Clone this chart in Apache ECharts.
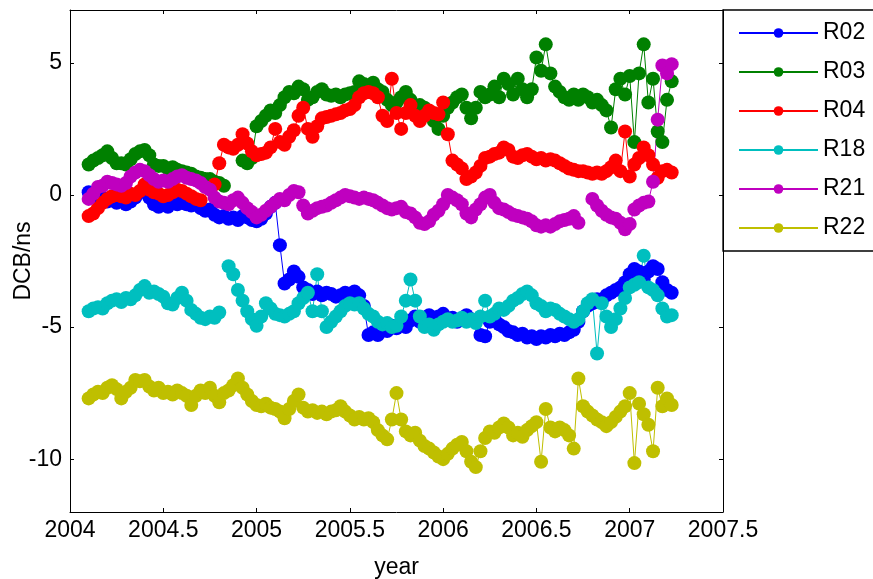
<!DOCTYPE html>
<html><head><meta charset="utf-8">
<script src="https://cdn.jsdelivr.net/npm/echarts@6/dist/echarts.min.js"></script>
<style>html,body{margin:0;padding:0;background:#fff}#c{width:873px;height:579px}</style>
</head><body><div id="c"></div>
<script>
const years = [
2004.100,2004.125,2004.150,2004.175,2004.200,2004.225,2004.250,2004.275,2004.300,2004.325,
2004.350,2004.375,2004.400,2004.425,2004.450,2004.475,2004.500,2004.525,2004.550,2004.575,
2004.600,2004.625,2004.650,2004.675,2004.700,2004.725,2004.750,2004.775,2004.800,2004.825,
2004.850,2004.875,2004.900,2004.925,2004.950,2004.975,2005.000,2005.025,2005.050,2005.075,
2005.100,2005.125,2005.150,2005.175,2005.200,2005.225,2005.250,2005.275,2005.300,2005.325,
2005.350,2005.375,2005.400,2005.425,2005.450,2005.475,2005.500,2005.525,2005.550,2005.575,
2005.600,2005.625,2005.650,2005.675,2005.700,2005.725,2005.750,2005.775,2005.800,2005.825,
2005.850,2005.875,2005.900,2005.925,2005.950,2005.975,2006.000,2006.025,2006.050,2006.075,
2006.100,2006.125,2006.150,2006.175,2006.200,2006.225,2006.250,2006.275,2006.300,2006.325,
2006.350,2006.375,2006.400,2006.425,2006.450,2006.475,2006.500,2006.525,2006.550,2006.575,
2006.600,2006.625,2006.650,2006.675,2006.700,2006.725,2006.750,2006.775,2006.800,2006.825,
2006.850,2006.875,2006.900,2006.925,2006.950,2006.975,2007.000,2007.025,2007.050,2007.075,
2007.100,2007.125,2007.150,2007.175,2007.200,2007.225];

const R02 = [
0.1,-0.05,-0.15,-0.1,-0.25,-0.2,-0.3,-0.2,-0.35,-0.25,
-0.1,0.1,0.2,-0.1,-0.35,-0.45,-0.35,-0.45,-0.3,-0.35,
-0.25,-0.35,-0.4,-0.3,-0.5,-0.6,-0.55,-0.75,-0.85,-0.8,
-0.9,-0.85,-0.95,-0.8,-0.85,-0.95,-1.0,-0.9,-0.7,-0.45,
-0.3,-1.9,-3.35,-3.2,-2.9,-3.1,-3.5,-3.6,-3.75,-3.65,
-3.8,-3.7,-3.75,-3.85,-3.8,-3.7,-3.75,-3.65,-3.8,-4.2,
-5.3,-5.2,-5.3,-5.05,-5.15,-4.95,-5.05,-4.9,-5.0,-4.75,
-4.6,-4.8,-4.65,-4.55,-4.7,-4.6,-4.5,-4.7,-4.65,-4.8,
-4.7,-4.55,-4.7,-4.75,-5.3,-5.35,-4.8,-4.7,-4.9,-5.0,
-5.15,-5.2,-5.3,-5.25,-5.4,-5.35,-5.45,-5.35,-5.4,-5.3,
-5.35,-5.25,-5.3,-5.2,-5.1,-4.8,-4.4,-4.2,-4.1,-3.95,
-4.0,-3.8,-3.7,-3.6,-3.5,-3.3,-3.0,-2.8,-2.9,-3.2,
-2.9,-2.7,-2.8,-3.3,-3.6,-3.7];

const R03 = [
1.15,1.3,1.4,1.5,1.65,1.4,1.2,1.2,1.15,1.35,
1.55,1.65,1.7,1.5,1.15,1.1,1.1,1.0,1.05,0.95,
0.9,0.85,0.8,0.7,0.65,0.6,0.6,0.5,0.45,0.35,
null,null,null,1.3,1.2,1.4,2.6,2.8,3.0,3.2,
3.1,3.4,3.7,3.9,3.85,4.1,4.0,3.6,3.7,3.9,
4.0,3.8,3.75,3.8,3.7,3.8,3.85,3.9,4.3,4.2,
4.1,4.25,4.0,3.9,3.6,3.4,3.5,3.7,3.9,3.6,
3.3,3.4,3.3,3.1,2.8,2.5,3.0,3.3,3.5,3.7,
3.8,3.3,2.9,3.3,3.9,3.7,3.8,4.1,3.7,4.4,
4.2,3.8,4.4,4.0,3.7,4.0,5.2,4.7,5.7,4.6,
4.1,3.9,3.7,3.6,3.8,3.6,3.8,3.7,3.5,3.6,
3.4,3.2,2.55,4.0,4.4,3.8,4.5,2.0,4.6,5.7,
3.5,4.4,2.4,2.0,3.6,4.3];

const R04 = [
-0.8,-0.7,-0.5,-0.3,-0.15,-0.05,0.0,-0.05,-0.1,0.05,
0.0,0.15,0.4,0.2,0.1,0.05,-0.05,0.0,0.1,0.2,
0.15,0.05,-0.05,-0.15,-0.2,null,null,0.4,1.2,1.9,
1.8,1.75,1.9,2.3,1.95,1.65,1.5,1.55,1.6,1.8,
2.5,2.0,1.9,2.2,2.45,3.0,3.3,2.5,2.2,2.6,
2.9,2.95,3.0,3.05,3.1,3.2,3.25,3.4,3.7,3.85,
3.9,3.85,3.7,3.0,2.8,4.4,3.1,2.5,3.1,3.4,
3.0,2.8,3.0,3.2,3.1,3.05,3.5,2.3,1.3,1.15,
1.0,0.6,0.7,0.85,1.1,1.4,1.45,1.55,1.6,1.8,
1.7,1.45,1.4,1.5,1.55,1.45,1.35,1.4,1.3,1.35,
1.3,1.2,1.1,1.0,0.95,0.9,0.9,0.85,0.8,0.85,
0.8,0.9,1.05,1.3,0.9,2.4,0.7,1.15,1.4,1.8,
1.5,1.15,0.65,0.9,0.95,0.85];

const R18 = [
-4.4,-4.3,-4.25,-4.3,-4.1,-4.0,-3.95,-4.05,-3.9,-3.95,
-3.8,-3.6,-3.45,-3.7,-3.65,-3.75,-3.85,-4.1,-4.15,-3.9,
-3.7,-4.0,-4.35,-4.5,-4.65,-4.7,-4.6,-4.65,-4.45,null,
-2.7,-3.0,-3.6,-4.0,-4.4,-4.7,-4.95,-4.6,-4.1,-4.3,
-4.5,-4.55,-4.6,-4.5,-4.4,-4.1,-3.9,-3.7,-4.4,-3.0,
-4.4,-5.0,-4.8,-4.6,-4.4,-4.2,-4.1,-4.15,-4.1,-4.3,
-4.5,-4.6,-4.8,-4.9,-4.85,-5.0,-4.95,-4.6,-4.0,-3.2,
-4.0,-4.6,-5.0,-4.9,-5.1,-4.9,-4.8,-4.7,-4.8,-4.75,
-4.65,-4.8,-4.7,-4.85,-4.6,-4.0,-4.6,-4.5,-4.3,-4.35,
-4.2,-4.0,-3.9,-3.75,-3.65,-3.8,-4.1,-4.2,-4.4,-4.3,
-4.35,-4.5,-4.6,-4.7,-4.8,-4.7,-4.4,-4.1,-3.95,-6.0,
-4.1,-4.6,-5.0,-4.7,-4.3,-3.9,-3.5,-3.4,-3.3,-2.3,
-3.5,-3.6,-3.8,-4.3,-4.6,-4.55];

const R21 = [
-0.15,0.05,0.3,0.35,0.5,0.45,0.4,0.35,0.45,0.7,
0.85,0.95,0.9,0.75,0.6,0.5,0.55,0.5,0.6,0.7,
0.75,0.65,0.6,0.55,0.45,0.3,0.2,-0.1,-0.25,-0.3,
-0.35,-0.2,-0.1,-0.3,-0.5,-0.65,-0.85,-0.75,-0.6,-0.45,
-0.3,-0.15,-0.2,0.0,0.15,0.1,-0.4,-0.7,-0.6,-0.5,
-0.45,-0.4,-0.3,-0.2,-0.1,0.0,-0.05,-0.1,-0.15,-0.1,
-0.15,-0.2,-0.3,-0.4,-0.5,-0.55,-0.5,-0.45,-0.65,-0.7,
-0.85,-1.05,-1.1,-1.0,-0.75,-0.6,-0.35,0.0,-0.1,-0.2,
-0.35,-0.7,-0.85,-0.55,-0.35,-0.1,0.0,-0.3,-0.5,-0.55,
-0.65,-0.75,-0.8,-0.85,-0.9,-1.0,-1.15,-1.2,-1.15,-1.2,
-1.1,-1.0,-0.95,-0.9,-0.8,-1.05,null,null,-0.15,-0.4,
-0.6,-0.75,-0.85,-0.9,-1.05,-1.3,-1.1,-0.55,-0.4,-0.3,
-0.25,0.5,2.85,4.9,4.6,4.95];

const R22 = [
-7.7,-7.55,-7.45,-7.5,-7.3,-7.2,-7.35,-7.7,-7.45,-7.3,
-7.0,-7.05,-7.0,-7.25,-7.4,-7.3,-7.5,-7.45,-7.55,-7.4,
-7.5,-7.6,-7.95,-7.6,-7.4,-7.5,-7.3,-7.6,-7.85,-7.5,
-7.4,-7.2,-6.95,-7.3,-7.55,-7.8,-7.95,-8.0,-7.9,-8.05,
-8.1,-8.2,-8.45,-8.1,-7.8,-7.55,-8.05,-8.2,-8.15,-8.25,
-8.2,-8.3,-8.2,-8.15,-8.0,-8.2,-8.35,-8.5,-8.4,-8.5,
-8.45,-8.6,-8.9,-9.1,-9.25,-8.5,-7.5,-8.5,-8.95,-9.1,
-9.0,-9.3,-9.5,-9.6,-9.75,-9.9,-10.0,-9.8,-9.6,-9.45,
-9.35,-9.7,-10.1,-10.3,-9.7,-9.2,-8.95,-9.0,-8.8,-8.65,
-8.8,-9.1,-9.0,-9.15,-8.9,-8.75,-8.6,-10.1,-8.1,-8.8,
-8.95,-8.8,-8.9,-9.1,-9.6,-6.95,-8.0,-8.2,-8.35,-8.5,
-8.6,-8.75,-8.6,-8.4,-8.2,-8.0,-7.5,-10.15,-7.9,-8.3,
-8.7,-9.7,-7.3,-8.0,-7.7,-7.95];

const seriesNames = ['R02','R03','R04','R18','R21','R22'];
const seriesValues = [R02, R03, R04, R18, R21, R22];
const seriesColors = ['#0000ff','#008000','#ff0000','#00bfbf','#bf00bf','#bfbf00'];
const yTickValues = [-10, -5, 0, 5];

const FONT = 'Liberation Sans, Arial, Helvetica, sans-serif';
const chart = echarts.init(document.getElementById('c'), null, {renderer: 'canvas'});

const series = seriesNames.map((name, k) => ({
  name: name,
  type: 'line',
  data: years.map((t, i) => [t, seriesValues[k][i]]),
  symbol: 'circle',
  symbolSize: 14,
  showAllSymbol: true,
  connectNulls: false,
  lineStyle: {color: seriesColors[k], width: 1},
  itemStyle: {color: seriesColors[k]},
  emphasis: {disabled: true},
  xAxisIndex: 0,
  yAxisIndex: 0
}));

const axisCommon = {
  axisLine: {show: true, onZero: false, lineStyle: {color: '#000', width: 1}},
  splitLine: {show: false}
};

chart.setOption({
  animation: false,
  backgroundColor: '#fff',
  grid: {left: 70, right: 150, top: 10, bottom: 67, containLabel: false, outerBoundsMode: 'none'},
  xAxis: [{
    type: 'value', min: 2004, max: 2007.5, interval: 0.5, position: 'bottom',
    name: 'year', nameLocation: 'middle', nameGap: 44, nameMoveOverlap: false,
    nameTextStyle: {fontSize: 23, fontFamily: FONT, color: '#000'},
    axisTick: {show: true, inside: true, length: 4, lineStyle: {color: '#000'}},
    axisLabel: {show: true, margin: 7, fontSize: 23, fontFamily: FONT, color: '#000',
      showMinLabel: true, showMaxLabel: true, formatter: v => String(v)},
    ...axisCommon
  }, {
    type: 'value', min: 2004, max: 2007.5, interval: 0.5, position: 'top',
    axisTick: {show: true, inside: true, length: 4, lineStyle: {color: '#000'}},
    axisLabel: {show: false},
    ...axisCommon
  }],
  yAxis: [{
    type: 'value', min: -12, max: 7, position: 'left',
    name: 'DCB/ns', nameLocation: 'middle', nameGap: 35, nameMoveOverlap: false,
    nameTextStyle: {fontSize: 23, fontFamily: FONT, color: '#000'},
    axisTick: {show: true, inside: true, length: 4, lineStyle: {color: '#000'}, customValues: yTickValues},
    axisLabel: {show: true, margin: 8, fontSize: 23, fontFamily: FONT, color: '#000', customValues: yTickValues},
    ...axisCommon
  }, {
    type: 'value', min: -12, max: 7, position: 'right',
    axisTick: {show: true, inside: true, length: 4, lineStyle: {color: '#000'}, customValues: yTickValues},
    axisLabel: {show: false, customValues: yTickValues},
    ...axisCommon
  }],
  legend: {
    orient: 'vertical', left: 738, top: 21, padding: 0,
    itemWidth: 79, itemHeight: 12, itemGap: 15,
    textStyle: {fontSize: 23, fontFamily: FONT, color: '#000', lineHeight: 24},
    data: seriesNames,
    selectedMode: false
  },
  graphic: [{
    type: 'rect', z: 100,
    shape: {x: 723, y: 10, width: 260, height: 241},
    style: {fill: 'none', stroke: '#000', lineWidth: 1.3}
  }],
  series: series
});
</script>
</body></html>
